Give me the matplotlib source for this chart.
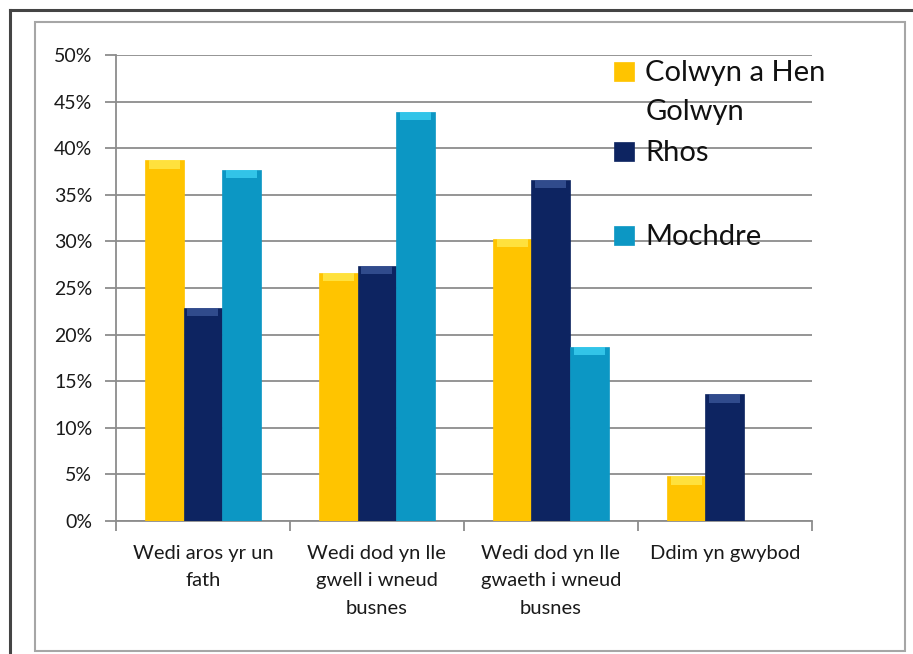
import numpy as np
import matplotlib
matplotlib.use("Agg")
import matplotlib.pyplot as plt
from matplotlib.patches import Rectangle
from matplotlib.lines import Line2D

plt.rcParams["font.family"] = ["Lato", "DejaVu Sans"]

categories = [
    "Wedi aros yr un\nfath",
    "Wedi dod yn lle\ngwell i wneud\nbusnes",
    "Wedi dod yn lle\ngwaeth i wneud\nbusnes",
    "Ddim yn gwybod",
]
series_names = ["Colwyn a Hen\nGolwyn", "Rhos", "Mochdre"]
colwyn = [38.7, 26.6, 30.3, 4.8]
rhos = [22.9, 27.4, 36.6, 13.6]
mochdre = [37.7, 43.9, 18.7, 0.0]
yticks = [0, 5, 10, 15, 20, 25, 30, 35, 40, 45, 50]

colors = ["#FFC400", "#0D2461", "#0C97C4"]
tops = ["#FFE94D", "#3A5597", "#3CD0F2"]

fig = plt.figure(figsize=(9.13, 6.54), dpi=100)

# frames around the chart
fig.add_artist(Line2D([0.011, 0.011], [0.0, 0.985], color="#444444", lw=2.2))
fig.add_artist(Line2D([0.011, 1.0], [0.985, 0.985], color="#444444", lw=2.2))
fig.add_artist(Rectangle((0.038, 0.004), 0.953, 0.962, fill=False,
                         edgecolor="#A6A6A6", lw=1.5))

ax = fig.add_axes([0.127, 0.2034, 0.762, 0.7125])

x = np.arange(len(categories))
w = 0.222
for i, vals in enumerate([colwyn, rhos, mochdre]):
    pos = x + (i - 1) * w
    ax.bar(pos, vals, width=w, color=colors[i], edgecolor=colors[i],
           linewidth=0.5, zorder=3)
    # lighter bevel at the top of each bar
    cap = np.minimum(np.array(vals), 0.9)
    ax.bar(pos, cap, width=w * 0.8, bottom=np.array(vals) - cap,
           color=tops[i], linewidth=0, zorder=4, alpha=0.8)

ax.set_xlim(-0.5, len(categories) - 0.5)
ax.set_ylim(0, 50)
ax.set_yticks(yticks)
ax.set_yticklabels([f"{t}%" for t in yticks])
ax.yaxis.grid(True, color="#8C8C8C", lw=1.3, zorder=0)
ax.set_axisbelow(True)

ax.set_xticks(x)
ax.set_xticklabels(categories, linespacing=1.75, va="top")
ax.set_xticks(np.arange(len(categories) + 1) - 0.5, minor=True)
ax.tick_params(axis="x", which="major", length=0, pad=17, labelsize=14.5,
               labelcolor="#1a1a1a")
ax.tick_params(axis="x", which="minor", length=7, width=1.3, color="#8C8C8C")
ax.tick_params(axis="y", length=8, width=1.3, color="#8C8C8C", pad=9,
               labelsize=14, labelcolor="#1a1a1a")

for side in ["top", "right"]:
    ax.spines[side].set_visible(False)
for side in ["left", "bottom"]:
    ax.spines[side].set_color("#8C8C8C")
    ax.spines[side].set_linewidth(1.3)

# legend drawn by hand to follow the original spacing
leg_y = [0.892, 0.77, 0.642]
for name, c, yy in zip(series_names, colors, leg_y):
    fig.add_artist(Rectangle((0.673, yy - 0.016), 0.021, 0.029,
                             facecolor=c, edgecolor=c, lw=0.5))
    fig.text(0.707, yy + 0.016, name, fontsize=21, va="top", ha="left",
             color="#111111", linespacing=1.6)

fig.savefig("out.png", dpi=100)
